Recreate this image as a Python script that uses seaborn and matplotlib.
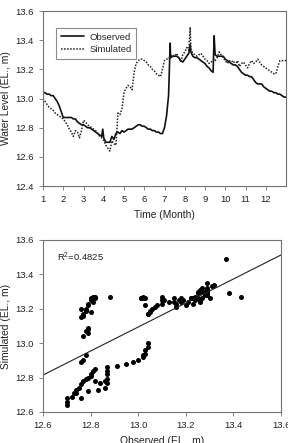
#!/usr/bin/env python3

"""Observed vs simulated water level: time series (top) and scatter (bottom)."""

import seaborn as sns
import matplotlib
matplotlib.use("Agg")
import matplotlib.pyplot as plt

####################################################################################################
# DATA

# time axis in months (0.1 month steps, plus a few single-day spikes)
time_month = [1.0, 1.1, 1.2, 1.3, 1.4, 1.5, 1.6, 1.7, 1.8, 1.9,
              2.0, 2.1, 2.2, 2.3, 2.4, 2.5, 2.6, 2.7, 2.8, 2.9,
              3.0, 3.1, 3.2, 3.3, 3.4, 3.5, 3.6, 3.7, 3.8, 3.9, 3.95,
              4.0, 4.1, 4.2, 4.3, 4.4, 4.5, 4.6, 4.7, 4.8, 4.9,
              5.0, 5.1, 5.2, 5.3, 5.4, 5.5, 5.6, 5.7, 5.8, 5.9,
              6.0, 6.1, 6.2, 6.3, 6.4, 6.5, 6.6, 6.7, 6.8, 6.9,
              7.0, 7.1, 7.2, 7.28, 7.3, 7.4, 7.5, 7.6, 7.7, 7.8, 7.9,
              8.0, 8.1, 8.2, 8.27, 8.3, 8.4, 8.5, 8.6, 8.7, 8.8, 8.9,
              9.0, 9.1, 9.2, 9.3, 9.4, 9.45, 9.5, 9.6, 9.7, 9.8, 9.9,
              10.0, 10.1, 10.2, 10.3, 10.4, 10.5, 10.6, 10.7, 10.8, 10.9,
              11.0, 11.1, 11.2, 11.3, 11.4, 11.5, 11.6, 11.7, 11.8, 11.9,
              12.0, 12.1, 12.2, 12.3, 12.4, 12.5, 12.6, 12.7, 12.8, 12.9,
              13.0]

observed = [13.04, 13.04, 13.03, 13.03, 13.02, 13.02, 13.00, 12.98, 12.95, 12.91,
            12.87, 12.87, 12.87, 12.87, 12.87, 12.86, 12.86, 12.84, 12.83, 12.82,
            12.82, 12.81, 12.80, 12.80, 12.79, 12.78, 12.77, 12.76, 12.75, 12.74, 12.79,
            12.73, 12.70, 12.70, 12.70, 12.74, 12.72, 12.76, 12.77, 12.76, 12.78,
            12.77, 12.78, 12.79, 12.79, 12.79, 12.80, 12.81, 12.82, 12.82, 12.81,
            12.81, 12.80, 12.79, 12.79, 12.78, 12.78, 12.77, 12.77, 12.76, 12.76,
            12.80, 12.88, 13.02, 13.38, 13.28, 13.29, 13.29, 13.29, 13.28, 13.26, 13.25,
            13.27, 13.29, 13.31, 13.37, 13.32, 13.29, 13.28, 13.28, 13.27, 13.26, 13.25,
            13.24, 13.22, 13.21, 13.19, 13.18, 13.43, 13.30, 13.29, 13.29, 13.29, 13.29,
            13.27, 13.26, 13.25, 13.24, 13.23, 13.23, 13.22, 13.20, 13.18, 13.17,
            13.16, 13.16, 13.15, 13.15, 13.13, 13.11, 13.10, 13.10, 13.10, 13.08,
            13.07, 13.06, 13.05, 13.05, 13.04, 13.04, 13.03, 13.03, 13.02, 13.01,
            13.01]

simulated = [13.00, 12.98, 12.96, 12.94, 12.93, 12.92, 12.90, 12.89, 12.88, 12.87,
             12.86, 12.84, 12.82, 12.79, 12.77, 12.74, 12.78, 12.77, 12.73, 12.78,
             12.85, 12.84, 12.82, 12.81, 12.80, 12.79, 12.78, 12.76, 12.74, 12.73, 12.72,
             12.71, 12.68, 12.66, 12.64, 12.71, 12.69, 12.68, 12.90, 12.89, 12.93,
             13.04, 13.07, 13.09, 13.08, 13.06, 13.18, 13.24, 13.26, 13.27, 13.27,
             13.26, 13.25, 13.23, 13.22, 13.20, 13.19, 13.17, 13.16, 13.15, 13.20,
             13.26, 13.27, 13.27, 13.29, 13.29, 13.30, 13.29, 13.31, 13.28, 13.25, 13.30,
             13.32, 13.35, 13.33, 13.49, 13.34, 13.31, 13.30, 13.29, 13.30, 13.31, 13.29,
             13.27, 13.26, 13.24, 13.25, 13.26, 13.27, 13.26, 13.28, 13.32, 13.30, 13.28,
             13.26, 13.24, 13.26, 13.25, 13.26, 13.23, 13.26, 13.22, 13.24, 13.25,
             13.23, 13.21, 13.24, 13.26, 13.24, 13.25, 13.27, 13.25, 13.23, 13.22,
             13.21, 13.20, 13.19, 13.18, 13.17, 13.17, 13.22, 13.26, 13.26, 13.26,
             13.26]

month_ticks = [1, 2, 3, 4, 5, 6, 7, 8, 9, 10, 11, 12]
level_ticks_top = [12.4, 12.6, 12.8, 13.0, 13.2, 13.4, 13.6]
level_ticks_bottom = [12.6, 12.8, 13.0, 13.2, 13.4, 13.6]

# linear fit shown in the scatter panel
fit_intercept = 4.02
fit_slope = 0.698
r_squared = "0.4825"

####################################################################################################

sns.set_style("ticks")
plt.rcParams["font.family"] = ["Liberation Sans", "DejaVu Sans"]
plt.rcParams["mathtext.default"] = "regular"

spine_col = "#707070"
tick_fs = 6.8
label_fs = 7.4


def style_axes(ax):
    for side in ["left", "right", "top", "bottom"]:
        ax.spines[side].set_visible(True)
        ax.spines[side].set_color(spine_col)
        ax.spines[side].set_linewidth(0.8)
    ax.tick_params(direction="out", length=3, width=0.6, color=spine_col,
                   labelsize=tick_fs, pad=3.5, labelcolor="#222222")
    ax.yaxis.set_major_formatter(matplotlib.ticker.FormatStrFormatter("%.1f"))


fig = plt.figure(figsize=(2.88, 4.43), dpi=100)

# TOP PANEL: time series
ax1 = fig.add_axes([0.1493, 0.5801, 0.8438, 0.395])
sns.lineplot(x=time_month, y=observed, ax=ax1, color="#111111", linewidth=1.2,
             label="Observed")
sns.lineplot(x=time_month, y=simulated, ax=ax1, color="#222222", linewidth=1.1,
             linestyle=(0, (1, 1)), label="Simulated")
ax1.set_xlim(1, 13)
ax1.set_ylim(12.4, 13.6)
ax1.set_xticks(month_ticks)
ax1.set_yticks(level_ticks_top)
style_axes(ax1)
ax1.set_xlabel("Time (Month)", fontsize=label_fs, labelpad=4, color="#222222")
ax1.set_ylabel("Water Level (EL., m)", fontsize=label_fs, labelpad=3, color="#222222")
leg = ax1.legend(loc="upper left", bbox_to_anchor=(0.035, 0.93), fontsize=tick_fs,
                 frameon=True, fancybox=False, handlelength=2.4, borderpad=0.5,
                 labelspacing=0.35, handletextpad=0.6)
leg.get_frame().set_edgecolor(spine_col)
leg.get_frame().set_linewidth(0.8)

# BOTTOM PANEL: scatter with fit
ax2 = fig.add_axes([0.1493, 0.0700, 0.8264, 0.3883])
sns.scatterplot(x=observed, y=simulated, ax=ax2, color="black", s=13,
                linewidth=0, edgecolor="black")
fit_x = [12.6, 13.6]
fit_y = [fit_intercept + fit_slope * v for v in fit_x]
sns.lineplot(x=fit_x, y=fit_y, ax=ax2, color="#222222", linewidth=0.8)
ax2.set_xlim(12.6, 13.6)
ax2.set_ylim(12.6, 13.6)
ax2.set_xticks(level_ticks_bottom)
ax2.set_yticks(level_ticks_bottom)
style_axes(ax2)
ax2.xaxis.set_major_formatter(matplotlib.ticker.FormatStrFormatter("%.1f"))
ax2.text(12.66, 13.5, r"R$^{2}$=" + r_squared, fontsize=tick_fs, va="center",
         color="#222222")
ax2.set_xlabel("Observed (EL., m)", fontsize=label_fs, labelpad=4, color="#222222")
ax2.set_ylabel("Simulated (EL., m)", fontsize=label_fs, labelpad=3, color="#222222")

fig.savefig("out.png", dpi=100)
